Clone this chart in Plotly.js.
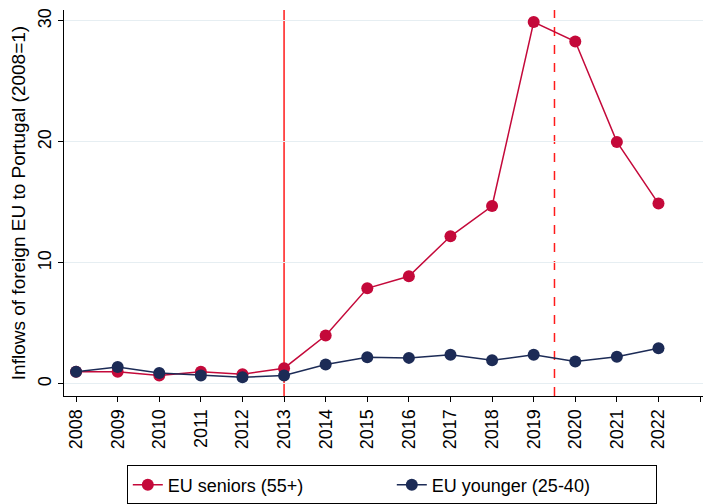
<!DOCTYPE html>
<html>
<head>
<meta charset="utf-8">
<script src="https://cdn.plot.ly/plotly-3.0.1.min.js"></script>
<style>html,body{margin:0;padding:0;background:#fff;}#chart{width:703px;height:504px;}</style>
</head>
<body>
<div id="chart"></div>
<script>
const years = [2008, 2009, 2010, 2011, 2012, 2013, 2014, 2015, 2016, 2017, 2018, 2019, 2020, 2021, 2022];
const seniors = [1.0, 1.0, 0.7, 1.0, 0.8, 1.3, 4.0, 7.9, 8.9, 12.2, 14.7, 29.9, 28.3, 20.0, 14.9];
const younger = [1.0, 1.4, 0.9, 0.7, 0.55, 0.7, 1.6, 2.2, 2.15, 2.4, 1.95, 2.4, 1.85, 2.25, 2.95];
const xTicks = [2008, 2009, 2010, 2011, 2012, 2013, 2014, 2015, 2016, 2017, 2018, 2019, 2020, 2021, 2022, 2023];
const yTicks = [0, 10, 20, 30];
const seriesNames = ["EU seniors (55+)", "EU younger (25-40)"];
const vlineSolid = 2013;
const vlineDashed = 2019.5;
const yTitle = "Inflows of foreign EU to Portugal (2008=1)";

const redC = "#c4093a";
const navyC = "#1c2b56";
const font = "Liberation Sans, Arial, sans-serif";

const traces = [
  {x: years, y: seniors, name: seriesNames[0], type: "scatter", mode: "lines+markers",
   line: {color: redC, width: 1.5}, marker: {color: redC, size: 12}},
  {x: years, y: younger, name: seriesNames[1], type: "scatter", mode: "lines+markers",
   line: {color: navyC, width: 1.5}, marker: {color: navyC, size: 12}}
];

const layout = {
  width: 703, height: 504,
  margin: {l: 64, r: 0, t: 10, b: 108, autoexpand: false},
  paper_bgcolor: "#fff", plot_bgcolor: "#fff",
  font: {family: font, size: 18, color: "#000"},
  showlegend: true,
  legend: {orientation: "h", x: 0.513, xanchor: "center", y: -0.18, yanchor: "top",
           bordercolor: "#000", borderwidth: 1, font: {size: 18},
           entrywidth: 219, entrywidthmode: "pixels",
           traceorder: "normal"},
  xaxis: {range: [2007.71, 2023.07], tickvals: xTicks, ticktext: xTicks.map(String),
          tickangle: -90, ticks: "outside", ticklen: 5, tickcolor: "#000",
          showline: true, linecolor: "#000", linewidth: 1, showgrid: false, zeroline: false,
          automargin: false, tickfont: {size: 18}},
  yaxis: {range: [-1, 30.9], tickvals: yTicks, ticktext: yTicks.map(String),
          tickangle: -90, ticks: "outside", ticklen: 5, tickcolor: "#000",
          showline: true, linecolor: "#000", linewidth: 1,
          showgrid: true, gridcolor: "#e6eef2", gridwidth: 1, zeroline: false,
          automargin: false, tickfont: {size: 18},
          title: {text: yTitle, font: {size: 19}, standoff: 4}},
  shapes: [
    {type: "line", xref: "x", yref: "paper", x0: vlineSolid, x1: vlineSolid, y0: 0, y1: 1,
     line: {color: "#ff1a1a", width: 1.5}, layer: "below"},
    {type: "line", xref: "x", yref: "paper", x0: vlineDashed, x1: vlineDashed, y0: 0, y1: 1,
     line: {color: "#ff1a1a", width: 1.5, dash: "dash"}, layer: "below"}
  ]
};

Plotly.newPlot("chart", traces, layout, {displayModeBar: false, staticPlot: true});
</script>
</body>
</html>
